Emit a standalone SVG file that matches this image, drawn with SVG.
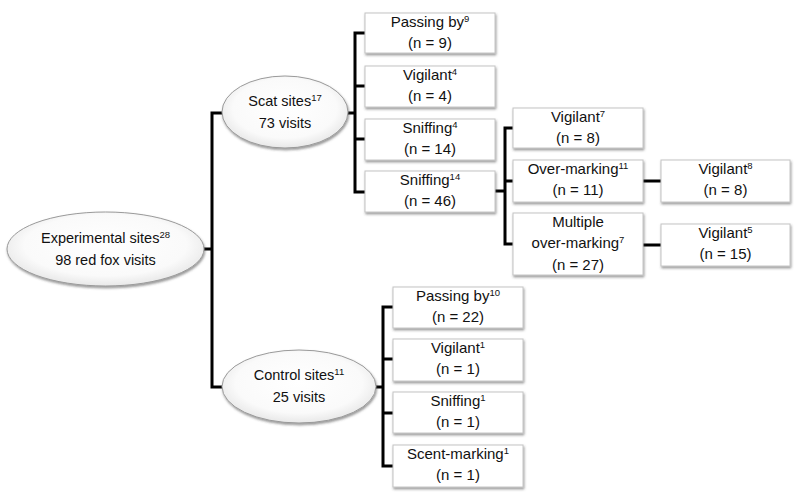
<svg xmlns="http://www.w3.org/2000/svg" width="798" height="502" viewBox="0 0 798 502">
<defs>
<filter id="sh" x="-10%" y="-20%" width="125%" height="150%">
<feDropShadow dx="0.8" dy="1.8" stdDeviation="1" flood-color="#444" flood-opacity="0.55"/>
</filter>
<radialGradient id="eg" cx="50%" cy="45%" r="55%">
<stop offset="0" stop-color="#ffffff"/>
<stop offset="0.75" stop-color="#fafafa"/>
<stop offset="1" stop-color="#e8e8e8"/>
</radialGradient>
<style>
.box{fill:#fff;stroke:#c4c4c4;stroke-width:1;filter:url(#sh)}
.ell{fill:url(#eg);stroke:#9a9a9a;stroke-width:1;filter:url(#sh)}
.t{font-family:"Liberation Sans",Arial,sans-serif;font-size:15px;fill:#111;text-anchor:middle}
.te{font-family:"Liberation Sans",Arial,sans-serif;font-size:14.5px;fill:#111;text-anchor:middle}
.sup{font-size:9.5px}
.c{fill:none;stroke:#000;stroke-width:3;stroke-linejoin:miter;stroke-linecap:butt}
</style>
</defs>
<g id="connectors">
<path class="c" d="M204,249 H212 M222,113 H212 V387 H222"/>
<path class="c" d="M348,113 H355 M365,33 H355 V192 H365 M355,86 H365 M355,139 H365"/>
<path class="c" d="M495,191 H505 M513,128 H505 V244 H513 M505,181 H513"/>
<path class="c" d="M643,181 H661 M643,245 H661"/>
<path class="c" d="M376,387 H383 M393,307 H383 V466 H393 M383,359 H393 M383,413 H393"/>
</g>
<g id="experimental">
<ellipse class="ell" cx="105.5" cy="249" rx="98.5" ry="37"/>
<text class="te" x="105.5" y="243">Experimental sites<tspan class="sup" dy="-5">28</tspan></text>
<text class="te" x="105.5" y="265">98 red fox visits</text>
</g>
<g id="scat">
<ellipse class="ell" cx="285" cy="112" rx="63" ry="36"/>
<text class="te" x="285" y="106">Scat sites<tspan class="sup" dy="-5">17</tspan></text>
<text class="te" x="285" y="128">73 visits</text>
</g>
<g id="control">
<ellipse class="ell" cx="299" cy="386.5" rx="77" ry="36.5"/>
<text class="te" x="299" y="380">Control sites<tspan class="sup" dy="-5">11</tspan></text>
<text class="te" x="299" y="402">25 visits</text>
</g>
<g id="s-passing">
<rect class="box" x="365" y="13" width="130" height="40"/>
<text class="t" x="430" y="27">Passing by<tspan class="sup" dy="-5">9</tspan></text>
<text class="t" x="430" y="48">(n = 9)</text>
</g>
<g id="s-vigilant">
<rect class="box" x="365" y="66" width="130" height="41"/>
<text class="t" x="430" y="80">Vigilant<tspan class="sup" dy="-5">4</tspan></text>
<text class="t" x="430" y="101">(n = 4)</text>
</g>
<g id="s-sniffing1">
<rect class="box" x="365" y="119" width="130" height="41"/>
<text class="t" x="430" y="133">Sniffing<tspan class="sup" dy="-5">4</tspan></text>
<text class="t" x="430" y="154">(n = 14)</text>
</g>
<g id="s-sniffing2">
<rect class="box" x="365" y="171" width="130" height="41"/>
<text class="t" x="430" y="185">Sniffing<tspan class="sup" dy="-5">14</tspan></text>
<text class="t" x="430" y="206">(n = 46)</text>
</g>
<g id="m-vigilant">
<rect class="box" x="513" y="108" width="130" height="40"/>
<text class="t" x="578" y="122">Vigilant<tspan class="sup" dy="-5">7</tspan></text>
<text class="t" x="578" y="143">(n = 8)</text>
</g>
<g id="m-overmarking">
<rect class="box" x="513" y="160" width="130" height="42"/>
<text class="t" x="578" y="174">Over-marking<tspan class="sup" dy="-5">11</tspan></text>
<text class="t" x="578" y="195">(n = 11)</text>
</g>
<g id="m-multiple">
<rect class="box" x="513" y="213" width="130" height="62"/>
<text class="t" x="578" y="227">Multiple</text>
<text class="t" x="578" y="248">over-marking<tspan class="sup" dy="-5">7</tspan></text>
<text class="t" x="578" y="270">(n = 27)</text>
</g>
<g id="r-vigilant8">
<rect class="box" x="661" y="160" width="129" height="42"/>
<text class="t" x="725.5" y="174">Vigilant<tspan class="sup" dy="-5">8</tspan></text>
<text class="t" x="725.5" y="195">(n = 8)</text>
</g>
<g id="r-vigilant5">
<rect class="box" x="661" y="224" width="129" height="42"/>
<text class="t" x="725.5" y="238">Vigilant<tspan class="sup" dy="-5">5</tspan></text>
<text class="t" x="725.5" y="259">(n = 15)</text>
</g>
<g id="c-passing">
<rect class="box" x="393" y="287" width="130" height="41"/>
<text class="t" x="458" y="301">Passing by<tspan class="sup" dy="-5">10</tspan></text>
<text class="t" x="458" y="322">(n = 22)</text>
</g>
<g id="c-vigilant">
<rect class="box" x="393" y="339" width="130" height="42"/>
<text class="t" x="458" y="353">Vigilant<tspan class="sup" dy="-5">1</tspan></text>
<text class="t" x="458" y="374">(n = 1)</text>
</g>
<g id="c-sniffing">
<rect class="box" x="393" y="392" width="130" height="41"/>
<text class="t" x="458" y="406">Sniffing<tspan class="sup" dy="-5">1</tspan></text>
<text class="t" x="458" y="427">(n = 1)</text>
</g>
<g id="c-scent">
<rect class="box" x="393" y="445" width="130" height="42"/>
<text class="t" x="458" y="459">Scent-marking<tspan class="sup" dy="-5">1</tspan></text>
<text class="t" x="458" y="480">(n = 1)</text>
</g>
</svg>
